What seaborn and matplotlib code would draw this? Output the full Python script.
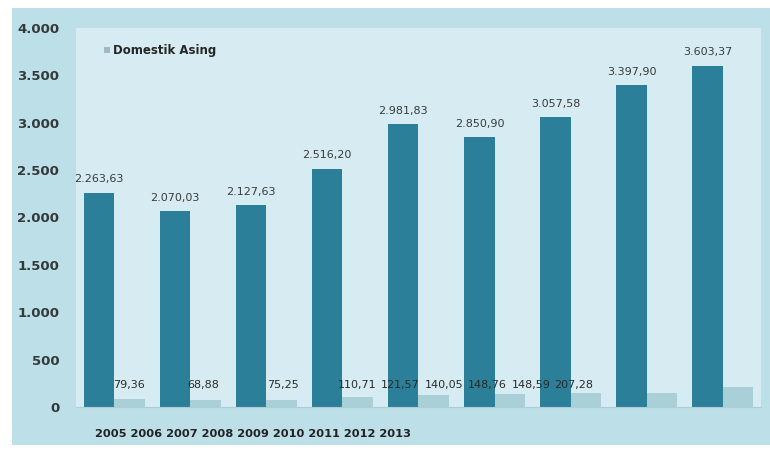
import matplotlib
matplotlib.use("Agg")
import matplotlib.pyplot as plt
import matplotlib.patches as mpatches
import pandas as pd
import seaborn as sns

sns.set_style("white")
plt.rcParams['font.family'] = ['DejaVu Sans']

# data
years = ["2005", "2006", "2007", "2008", "2009", "2010", "2011", "2012", "2013"]
domestik = [2263.63, 2070.03, 2127.63, 2516.20, 2981.83, 2850.90, 3057.58, 3397.90, 3603.37]
asing = [79.36, 68.88, 75.25, 110.71, 121.57, 140.05, 148.76, 148.59, 207.28]
series_names = ["Domestik", "Asing"]
y_ticks = [0, 500, 1000, 1500, 2000, 2500, 3000, 3500, 4000]

# where the (crowded) Asing labels sit in the source chart
asing_label_x = [0.20, 1.17, 2.22, 3.19, 3.76, 4.34, 4.90, 5.48, 6.04]
asing_label_y = 232

dark = "#2c7f98"
light = "#a9cfd7"
outer_bg = "#bddfe8"
plot_bg = "#d6ecf2"
text_col = "#34393c"


def id_fmt(v, dec=2):
    s = f"{v:,.{dec}f}"
    return s.replace(",", "#").replace(".", ",").replace("#", ".")


df = pd.DataFrame({
    "tahun": years * 2,
    "nilai": domestik + asing,
    "jenis": [series_names[0]] * len(years) + [series_names[1]] * len(years),
})

fig = plt.figure(figsize=(7.7, 4.51), dpi=100)
fig.patch.set_facecolor("white")
fig.patches.append(mpatches.Rectangle((12 / 770, 6 / 451), 1 - 12 / 770, 437 / 451,
                                      transform=fig.transFigure, facecolor=outer_bg,
                                      edgecolor="none", zorder=-10))

ax = fig.add_axes([76 / 770, 44 / 451, 685 / 770, 379 / 451])
ax.set_facecolor(plot_bg)

sns.barplot(data=df, x="tahun", y="nilai", hue="jenis", hue_order=series_names,
            palette=[dark, light], width=0.8, gap=0, saturation=1,
            legend=False, ax=ax, errorbar=None, linewidth=0)

ax.set_ylim(0, 4000)
ax.set_xlim(-0.5, len(years) - 0.5)
ax.set_yticks(y_ticks)
ax.set_yticklabels([id_fmt(t, 0) for t in y_ticks], fontsize=9.5,
                   fontweight="bold", color=text_col)
ax.tick_params(axis="y", length=0, pad=12)
ax.set_xticks([])
ax.set_xlabel("")
ax.set_ylabel("")
for s in ["top", "right", "left"]:
    ax.spines[s].set_visible(False)
ax.spines["bottom"].set_color("#b0ccd4")

# value labels on domestic bars
ax.bar_label(ax.containers[0], labels=[id_fmt(v) for v in domestik],
             padding=6, fontsize=8, color="#3a3a3a")

# crowded Asing labels, as in the original
for xp, v in zip(asing_label_x, asing):
    ax.text(xp, asing_label_y, id_fmt(v), ha="center", va="center",
            fontsize=8, color="#2a2a2a")

# year labels bunched on the left like the source
ax.text(0.028, -0.072, " ".join(years), transform=ax.transAxes,
        ha="left", va="center", fontsize=8.2, fontweight="bold", color="#222222")

# legend (merged entry as in the source)
handle = mpatches.Patch(facecolor="#9fb9c2", edgecolor="none")
ax.legend([handle], [" ".join(series_names)], loc="upper left",
          bbox_to_anchor=(0.025, 0.985), frameon=False, handlelength=0.5,
          handleheight=0.5, handletextpad=0.3,
          prop={"size": 8.5, "weight": "bold"})

fig.savefig("out.png", dpi=100)
